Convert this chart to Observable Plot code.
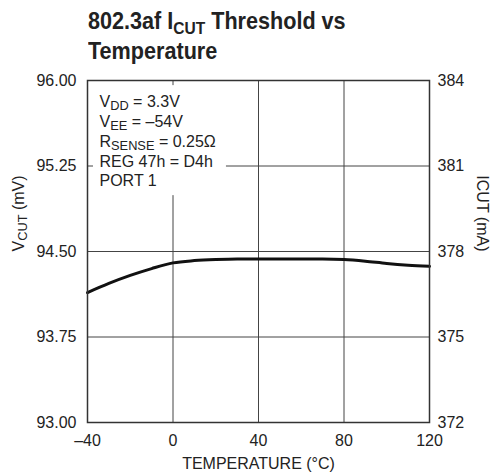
<!DOCTYPE html>
<html><head><meta charset="utf-8">
<script src="https://cdn.jsdelivr.net/npm/d3@7"></script>
<script src="https://cdn.jsdelivr.net/npm/@observablehq/plot@0.6"></script>
<style>
body{margin:0;background:#fff;font-family:"Liberation Sans",Arial,sans-serif;}
#title{position:absolute;left:88px;top:7px;font-weight:bold;font-size:24px;line-height:28px;color:#222;white-space:nowrap;transform:scaleX(0.9);transform-origin:0 0;}
#title .sub{font-size:0.72em;position:relative;top:0.28em;}
#chart{position:absolute;left:0;top:72px;}
</style></head><body>
<div id="title">802.3af I<span class="sub">CUT</span> Threshold vs<br>Temperature</div>
<div id="chart"></div>
<script>
const temperature = [-40,-30,-20,-10,0,10,20,30,40,50,60,70,80,90,100,110,120];
const vcut = [94.14,94.22,94.29,94.35,94.40,94.42,94.43,94.435,94.435,94.435,94.435,94.435,94.43,94.415,94.395,94.38,94.37];
const xTicks = [-40,0,40,80,120];
const yTicks = [93,93.75,94.5,95.25,96];
const rightTickLabels = ["372","375","378","381","384"];
const legendLines = ["V_{DD} = 3.3V","V_{EE} = –54V","R_{SENSE} = 0.25Ω","REG 47h = D4h","PORT 1"];
const legendBox = {x1:-37.2, x2:25, y1:94.99, y2:95.955};

const data = temperature.map((t,i)=>({t, v:vcut[i]}));
const font = '"Liberation Sans",Arial,sans-serif';

const chart = Plot.plot({
  width:492, height:403,
  marginTop:8, marginRight:63, marginBottom:53, marginLeft:87,
  style:{fontFamily:font, fontSize:"16px", color:"#222", background:"#fff"},
  x:{domain:[-40,120]},
  y:{domain:[93,96]},
  marks:[
    Plot.gridX([0,40,80], {stroke:"#444", strokeOpacity:1, strokeWidth:1}),
    Plot.gridY([93.75,94.5,95.25], {stroke:"#444", strokeOpacity:1, strokeWidth:1}),
    Plot.rect([legendBox], {x1:"x1", x2:"x2", y1:"y1", y2:"y2", fill:"#fff"}),
    Plot.text([legendLines.join("\n")], {frameAnchor:"top-left", dx:12, dy:13, lineHeight:1.23, fontSize:16, fill:"#222", ariaLabel:"legendtext", text:d=>d}),
    Plot.line(data, {x:"t", y:"v", stroke:"#111", strokeWidth:3, curve:"monotone-x"}),
    Plot.frame({stroke:"#333", strokeWidth:1.5}),
    Plot.axisX(xTicks, {tickSize:0, tickPadding:12, fontSize:16, tickFormat:d=> d<0 ? "–"+Math.abs(d) : String(d), label:null}),
    Plot.axisY(yTicks, {anchor:"left", tickSize:0, tickPadding:11, fontSize:16, tickFormat:d3.format(".2f"), label:null}),
    Plot.axisY(yTicks, {anchor:"right", tickSize:0, tickPadding:8, fontSize:16, tickFormat:d=>rightTickLabels[yTicks.indexOf(d)], label:null}),
    Plot.text(["TEMPERATURE (°C)"], {frameAnchor:"bottom", dy:46, fontSize:16, fill:"#222", text:d=>d}),
    Plot.text(["V_{CUT} (mV)"], {frameAnchor:"left", dx:-69, rotate:-90, fontSize:16, fill:"#222", ariaLabel:"ylabel", text:d=>d}),
    Plot.text(["ICUT (mA)"], {frameAnchor:"right", dx:53, rotate:90, fontSize:16, fill:"#222", ariaLabel:"ylabel2", text:d=>d})
  ]
});
document.getElementById("chart").appendChild(chart);

// render _{...} as subscripts
function subify(node){
  const s = node.textContent;
  if (!s.includes("_{")) return;
  node.textContent = "";
  const re = /_\{([^}]*)\}/g;
  let last = 0, m;
  while ((m = re.exec(s))){
    if (m.index>last) node.appendChild(document.createTextNode(s.slice(last,m.index)));
    const ts = document.createElementNS("http://www.w3.org/2000/svg","tspan");
    ts.setAttribute("baseline-shift","-3");
    ts.setAttribute("font-size","0.8em");
    ts.textContent = m[1];
    node.appendChild(ts);
    last = re.lastIndex;
  }
  if (last < s.length) node.appendChild(document.createTextNode(s.slice(last)));
}
d3.select(chart).selectAll("text").each(function(){
  const tspans = this.querySelectorAll("tspan");
  if (tspans.length) tspans.forEach(subify); else subify(this);
});
</script>
</body></html>
